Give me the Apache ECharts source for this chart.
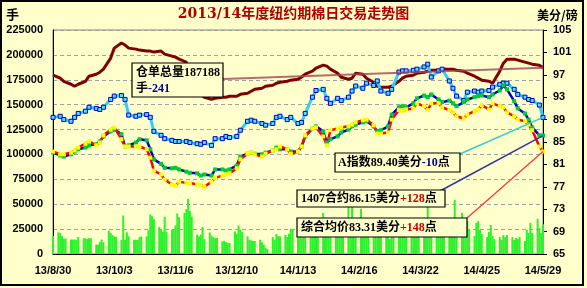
<!DOCTYPE html>
<html><head><meta charset="utf-8">
<script src="https://cdn.jsdelivr.net/npm/echarts@6/dist/echarts.min.js"></script>
<style>html,body{margin:0;padding:0;background:#FFFFCC}#c{width:587px;height:288px}</style>
</head><body><div id="c"></div>
<script>
// ---- data ----
const firstDay = [2013, 7, 30];   // 2013-08-30
const lastDay = [2014, 4, 29];    // 2014-05-29
const tickLabels = ['13/8/30','13/10/3','13/11/6','13/12/10','14/1/13','14/2/16','14/3/22','14/4/25','14/5/29'];

// stock total, every other trading day
const stock = [179600,176600,173500,170500,168500,170500,173500,178600,180600,182600,
185700,196800,206800,211900,209900,206800,205800,204800,203800,203800,
202800,203800,200800,198800,197800,195700,192700,180600,170500,160400,
157400,155400,156400,157400,157400,158400,158400,160400,161400,163500,
165500,166500,168500,169500,171500,172500,173500,174600,175600,177600,
180600,183600,186700,189700,188700,185700,181600,177600,175600,176600,
181600,180600,176600,172500,168500,167500,167500,168500,173500,176600,
178600,179600,181600,182600,183600,184600,184600,185700,185700,185700,
184600,183600,181600,178600,176600,174600,173500,171500,183600,191700,
195700,195700,194700,192700,191700,190700,189700,187188];

// A index (cents/lb)
const aIndex = [89.4,89.6,89.0,88.7,89.4,90.1,90.5,91.2,91.0,90.8,
91.2,92.6,93.2,93.3,92.6,89.8,89.6,89.8,89.9,89.4,
86.9,86.2,85.6,85.3,85.1,85.1,85.1,84.9,84.7,84.6,
84.9,84.4,85.6,85.6,86.0,85.8,86.0,87.1,88.7,88.9,
88.7,88.3,88.0,88.3,89.4,89.6,89.0,89.4,88.3,88.5,
90.1,93.0,94.2,94.4,92.8,91.9,92.8,92.4,93.0,94.1,
95.0,94.6,95.5,95.1,95.9,94.1,93.7,94.4,97.5,97.7,
97.7,97.8,98.0,98.4,98.9,96.6,97.7,98.0,95.9,94.6,
93.2,92.4,93.9,94.1,93.9,94.1,94.2,94.8,95.3,95.5,
95.5,94.4,93.5,93.0,92.6,92.4,91.6,89.40];

// July 2014 contract (cents/lb)
const c1407 = [83.1,82.6,82.4,82.8,83.3,83.7,84.0,84.4,84.6,85.1,
86.0,86.9,87.2,86.4,84.2,84.4,84.9,85.5,85.3,83.7,
81.9,81.1,80.4,80.3,80.4,80.1,79.7,79.5,79.4,79.0,
79.2,79.0,80.1,80.1,79.9,80.1,80.8,82.4,82.9,83.1,
82.9,82.8,83.1,83.5,84.0,83.7,83.7,83.3,83.3,84.2,
86.0,87.4,87.8,86.9,84.9,85.5,86.0,86.7,87.2,87.8,
88.1,88.5,88.7,87.8,86.9,87.1,87.8,89.9,91.2,91.4,
91.2,91.9,92.8,93.3,93.0,93.5,92.6,92.1,92.4,91.9,
91.4,92.1,92.6,93.0,93.2,93.3,93.0,93.5,94.2,95.1,
94.4,92.3,91.0,90.1,89.0,87.6,86.2,86.15];

// composite average price (cents/lb)
const avgPrice = [83.3,82.8,82.8,83.1,83.5,84.0,84.7,85.1,84.4,84.9,
86.2,87.2,87.6,85.5,84.2,84.2,84.2,84.2,83.7,82.2,
79.9,79.2,78.3,77.4,77.2,77.9,77.7,77.7,77.4,77.4,
77.0,77.9,78.6,79.0,79.2,79.4,80.3,81.9,82.9,83.1,
82.8,82.4,82.9,83.5,83.7,84.2,83.7,82.9,83.3,84.2,
86.2,87.4,87.6,86.0,84.4,87.1,87.4,87.6,87.8,88.1,
88.5,88.9,89.0,88.0,86.5,86.5,86.7,89.0,90.7,90.5,
90.8,91.0,91.9,91.4,90.7,91.9,91.9,91.2,90.7,90.3,
89.6,89.2,89.9,90.5,90.8,91.6,90.8,91.9,91.4,91.2,
90.3,89.6,89.0,88.7,88.1,87.1,84.2,83.31];

// volume, every trading day
const volume = [18000,
21800,21000,17800,15500,15500,
14500,14500,14500,14000,17000,
15800,15800,15000,15800,15800,
9400,9400,12000,14500,11700,
23500,21200,19000,17800,17100,
14300,38600,14300,21800,17800,
14300,14300,14300,17000,17500,
17700,23900,39700,38000,35000,
27200,25200,22700,37300,22000,
24500,24500,28600,40700,37000,
41300,45000,55400,43000,37700,
19500,17700,19500,27200,15000,
21700,18300,17000,16000,16000,
12700,13300,12000,11000,11000,
22700,20300,28600,24300,22000,
17700,14300,13700,13000,13000,
14300,11700,9300,6000,5000,
17000,14300,20000,17700,17700,
19300,17000,20300,25200,25200,
22000,19000,24000,21000,18000,
20000,27000,23000,31000,22000,
41300,26000,22000,19000,24000,
21000,30000,25000,20000,23000,
48000,33000,47500,28000,22000,
45400,24000,20000,26000,21000,
23000,19000,26000,22000,18000,
20000,17000,15000,21000,24000,
26000,22000,19000,28000,23000,
25000,30000,22000,20000,27000,
25000,22000,49400,26000,24000,
28000,24000,21000,30000,25000,
23000,26000,30000,54400,28000,
41300,22000,20000,33000,25000,
18000,31300,33000,24000,20000,
17000,22000,29200,18000,15000,
17000,14000,19000,17000,19000,
17000,14000,16000,15000,17000,
13000,24200,21000,31300,21000,
35300,26000,21000,30000];

// ---- trading calendar (weekdays), as day offsets from first day ----
const DAY = 86400000;
const t0 = Date.UTC(firstDay[0], firstDay[1], firstDay[2]);
const t1 = Date.UTC(lastDay[0], lastDay[1], lastDay[2]);
const spanDays = Math.round((t1 - t0) / DAY);
const tradingDays = [];
for (let d = 0; d <= spanDays; d++) {
  const dow = new Date(t0 + d * DAY).getUTCDay();
  if (dow !== 0 && dow !== 6) tradingDays.push(d);
}
const lineDays = tradingDays.filter((d, i) => i % 2 === 0);
const pair = (days, arr) => arr.map((v, i) => [days[i], v]);

const FONT = '"Liberation Sans", Arial, sans-serif';
const FBOX = 'bold 12px "Liberation Serif", "Noto Sans CJK SC", serif';
const labelStyle = {color: '#000', fontWeight: 'bold', fontSize: 11, fontFamily: FONT};

const chart = echarts.init(document.getElementById('c'));
chart.setOption({
  animation: false,
  backgroundColor: '#FFFFCC',
  title: {text: '2013/14年度纽约期棉日交易走势图', left: 'center', top: 2,
    textStyle: {color: '#B00000', fontSize: 14, fontWeight: 'bold', fontFamily: '"DejaVu Serif","Noto Sans CJK SC",serif'}},
  grid: {left: 53, right: 44, top: 30, bottom: 34, show: true, backgroundColor: '#FFFFCC', borderColor: '#808080', borderWidth: 1},
  xAxis: {type: 'value', min: 0, max: spanDays, interval: 34,
    axisLine: {lineStyle: {color: '#000'}}, axisTick: {show: false}, splitLine: {show: false},
    axisLabel: Object.assign({margin: 11, formatter: v => tickLabels[Math.round(v / 34)] || ''}, labelStyle)},
  yAxis: [
    {type: 'value', min: 0, max: 225000, interval: 25000,
      axisLine: {show: true, lineStyle: {color: '#000'}}, axisTick: {show: false},
      splitLine: {lineStyle: {color: '#A0A0A0', type: [4, 3]}},
      axisLabel: Object.assign({margin: 10, formatter: v => String(v)}, labelStyle)},
    {type: 'value', min: 65, max: 105, interval: 4, position: 'right',
      axisLine: {show: true, lineStyle: {color: '#000'}},
      axisTick: {show: true, length: 4, lineStyle: {color: '#000'}},
      splitLine: {show: false},
      axisLabel: Object.assign({margin: 10, formatter: v => String(v)}, labelStyle)}
  ],
  series: [
    {name: 'volume', type: 'bar', yAxisIndex: 0, barWidth: 2, data: pair(tradingDays, volume),
      itemStyle: {color: '#2EF02E'}},
    {name: 'stock', type: 'line', yAxisIndex: 0, data: pair(lineDays, stock), showSymbol: false,
      lineStyle: {color: '#800000', width: 3}},
    {name: 'aIndex', type: 'line', yAxisIndex: 1, data: pair(lineDays, aIndex), symbol: 'rect', symbolSize: 4,
      lineStyle: {color: '#33CCFF', width: 3}, itemStyle: {color: '#55DDFF', borderColor: '#0000CC', borderWidth: 1}},
    {name: 'c1407', type: 'line', yAxisIndex: 1, data: pair(lineDays, c1407), symbol: 'rect', symbolSize: 4,
      lineStyle: {color: '#0000CC', width: 2.5}, itemStyle: {color: '#00CC33', borderWidth: 0}},
    {name: 'avgPrice', type: 'line', yAxisIndex: 1, data: pair(lineDays, avgPrice), symbol: 'rect', symbolSize: 4,
      lineStyle: {color: '#FF0000', width: 2.5}, itemStyle: {color: '#FFFF00', borderWidth: 0}}
  ]
});

// ---- annotations ----
const last = lineDays.length - 1;
const endPt = (si, arr) => chart.convertToPixel({seriesIndex: si}, [lineDays[last], arr[last]]);
const pStock = endPt(1, stock), pA = endPt(2, aIndex), p1407 = endPt(3, c1407), pAvg = endPt(4, avgPrice);

const mctx = document.createElement('canvas').getContext('2d');
mctx.font = FBOX;
let gid = 0;
function rect(x, y, w, h) {
  return {id: 'g' + (gid++), type: 'rect', shape: {x: x, y: y, width: w, height: h}, style: {fill: '#FFFFCC', stroke: '#000', lineWidth: 1.2}, z: 100, silent: true};
}
function runs(x, y, parts) {
  let cx = x;
  return parts.map(p => {
    const el = {id: 'g' + (gid++), type: 'text', x: cx, y: y, style: {text: p[0], font: FBOX, fill: p[1], verticalAlign: 'middle'}, z: 101, silent: true};
    cx += mctx.measureText(p[0]).width;
    return el;
  });
}
function leader(x1, y1, p, color, w) {
  return {id: 'g' + (gid++), type: 'line', shape: {x1: x1, y1: y1, x2: p[0], y2: p[1]}, style: {stroke: color, lineWidth: w}, z: 90, silent: true};
}
const K = '#000', B = '#000099', R = '#CC0000';
const g = [].concat(
  [leader(223, 79, pStock, 'rgba(160,70,90,0.8)', 2),
   leader(460, 154, pA, '#33CCCC', 1.5),
   leader(440, 191, p1407, '#3333AA', 1.5),
   leader(467, 218, pAvg, '#FF3333', 1.2),
   rect(132, 63, 91, 34)],
  runs(136, 73, [['仓单总量187188', K]]),
  runs(136, 89, [['手', K], ['-241', B]]),
  [rect(335, 153, 125, 19)],
  runs(338, 163, [['A指数89.40美分', K], ['-10', B], ['点', K]]),
  [rect(297, 190, 148, 17)],
  runs(301, 199, [['1407合约86.15美分', K], ['+128', R], ['点', K]]),
  [rect(297, 218, 170, 19)],
  runs(301, 228, [['综合均价83.31美分', K], ['+148', R], ['点', K]]),
  [{id: 'unitL', type: 'text', x: 6, y: 14, style: {text: '手', font: 'bold 13px "Noto Sans CJK SC", sans-serif', fill: '#000', verticalAlign: 'middle'}, z: 101, silent: true},
   {id: 'unitR', type: 'text', x: 537, y: 15, style: {text: '美分/磅', font: 'bold 12px "Noto Sans CJK SC", sans-serif', fill: '#000', verticalAlign: 'middle'}, z: 101, silent: true},
   {id: 'border', type: 'rect', shape: {x: 1, y: 1, width: 582, height: 284}, style: {fill: 'rgba(0,0,0,0)', stroke: '#000', lineWidth: 2}, z: 200, silent: true}]
);
chart.setOption({graphic: g});

// safety pass: keep every left-axis value label visible, drop any stray text in the left label column
const zr = chart.getZr();
zr.storage.getDisplayList(true).forEach(el => {
  const t = el.style && el.style.text;
  if (t == null) return;
  const r = el.getBoundingRect().clone();
  r.applyTransform(el.getComputedTransform());
  if (r.x < 50 && r.y > 24 && r.y < 258) {
    if (/^\d+$/.test(String(t))) { el.ignore = false; el.invisible = false; if (el.parent) { el.parent.ignore = false; } }
    else { el.ignore = true; }
  }
});
zr.refreshImmediately();
</script>
</body></html>
